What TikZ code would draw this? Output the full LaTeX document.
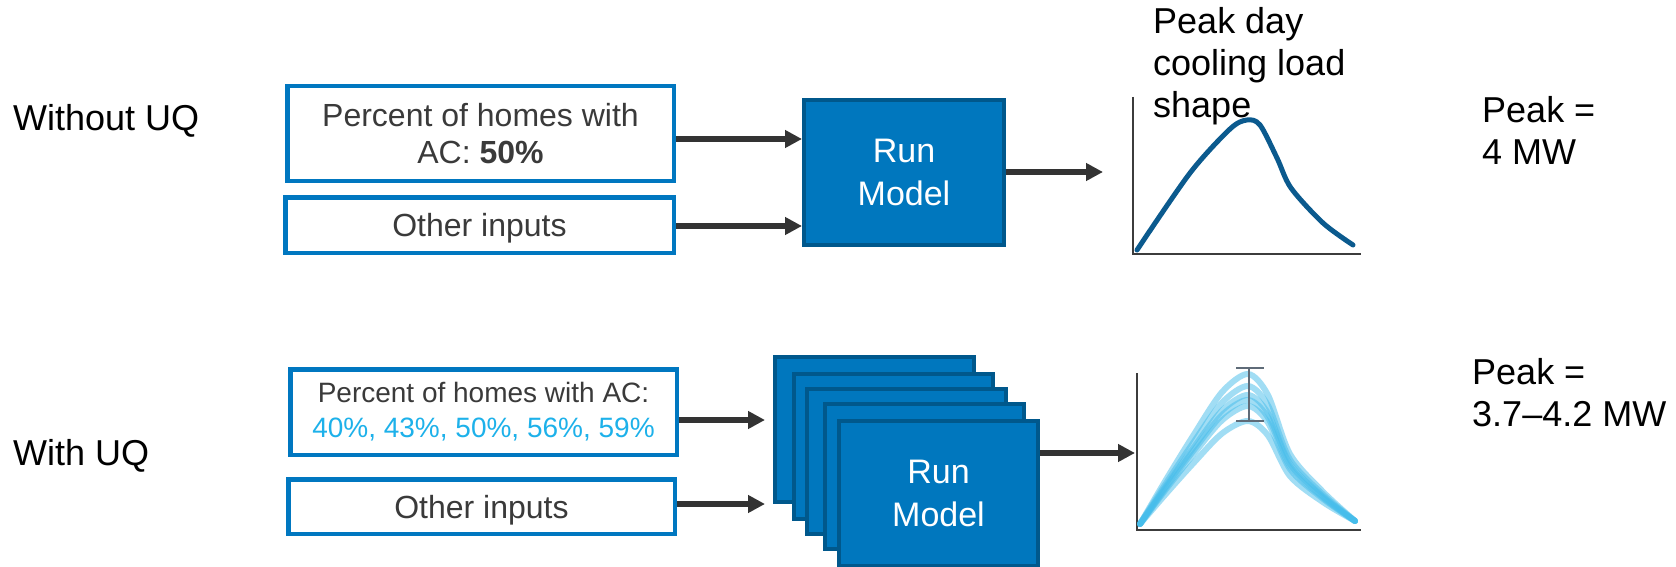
\documentclass[tikz,border=0pt]{standalone}
\usepackage{fontspec}
\setmainfont{Liberation Sans}
\usetikzlibrary{arrows.meta}
\definecolor{inblue}{HTML}{0077C0}
\definecolor{modelfill}{HTML}{0077BE}
\definecolor{modelborder}{HTML}{00588C}
\definecolor{arrgrey}{HTML}{333333}
\definecolor{txtgrey}{HTML}{3A3A3A}
\definecolor{cyantxt}{HTML}{1DB1EA}
\definecolor{curvedark}{HTML}{0B5A8E}
\definecolor{curvelight}{HTML}{45BDEB}
\definecolor{axisgrey}{HTML}{3C3C3C}
\definecolor{errgrey}{HTML}{5F6B78}
\tikzset{
  inbox/.style={draw=inblue, line width=4.5pt, fill=white, text=txtgrey, align=center,
    inner sep=0pt, font=\fontsize{32}{37}\selectfont},
  modelbox/.style={draw=modelborder, line width=4pt, fill=modelfill, text=white, align=center,
    inner sep=0pt, minimum width=199pt, minimum height=145pt, font=\fontsize{34}{43}\selectfont},
  arr/.style={draw=arrgrey, line width=6pt, -{Triangle[length=17pt,width=17pt]}},
  plainlbl/.style={inner sep=0pt, anchor=north west, align=left, text=black,
    font=\fontsize{36}{42}\selectfont},
  axisline/.style={draw=axisgrey, line width=2.5pt},
  darkcurve/.style={draw=curvedark, line width=5pt, line cap=round},
  lightcurve/.style={draw=curvelight, draw opacity=0.5, line width=6pt, line cap=round},
  errbar/.style={draw=errgrey, line width=2.5pt}
}
\begin{document}
\begin{tikzpicture}[x=1pt,y=-1pt]
\clip (0,0) rectangle (1676,567);
\fill[white] (0,0) rectangle (1676,567);

% left labels
\node[plainlbl] (lwo) at (13,104) {Without UQ};
\node[plainlbl] (lw) at (13,439) {With UQ};

% ---------- without UQ ----------
\node[inbox, minimum width=386.5pt, minimum height=94.5pt] (in1) at (480.5,133.5)
  {Percent of homes with\\AC: \textbf{50\%}};
\node[inbox, text depth=0pt, minimum width=388.5pt, minimum height=55.5pt] (in2) at (479.5,225) {Other inputs};
\node[modelbox, minimum width=200pt] (run1) at (904,172.5) {Run\\Model};

\coordinate (ya) at (0,139);
\coordinate (yb) at (0,226);
\coordinate (yc) at (0,172);
\coordinate (t1) at (1103,172);
\draw[arr] (in1.east |- ya) -- (run1.west |- ya);
\draw[arr] (in2.east |- yb) -- (run1.west |- yb);
\draw[arr] (run1.east |- yc) -- (t1);

% top chart
\draw[axisline] (1133,97) -- (1133,254) -- (1361,254);
\draw[darkcurve] plot[smooth] coordinates {(1137,250) (1190,173) (1230,129) (1247,120) (1260,125) (1277,158) (1291,188) (1323,223) (1353,245)};
\node[plainlbl] (ltitle) at (1153,7) {Peak day\\cooling load\\shape};
\node[plainlbl] (lpk1) at (1482,96) {Peak =\\4 MW};

% ---------- with UQ ----------
\node[inbox, minimum width=386.5pt, minimum height=85.5pt, font=\fontsize{28}{35}\selectfont] (in3) at (483.5,412)
  {Percent of homes with AC:\\\textcolor{cyantxt}{40\%, 43\%, 50\%, 56\%, 59\%}};
\node[inbox, text depth=0pt, minimum width=386.5pt, minimum height=54.5pt] (in4) at (481.5,506.5) {Other inputs};

\node[modelbox] (b1) at (874.5,429.5) {};
\node[modelbox] (b2) at (893.5,446.5) {};
\node[modelbox] (b3) at (906.5,461.5) {};
\node[modelbox] (b4) at (924.5,476.5) {};
\node[modelbox] (b5) at (938.5,493.5) {Run\\Model};

\coordinate (yd) at (0,420);
\coordinate (ye) at (0,504);
\coordinate (yf) at (0,453);
\coordinate (t2) at (765,420);
\coordinate (t3) at (765,504);
\coordinate (t4) at (1135,453);
\draw[arr] (in3.east |- yd) -- (t2);
\draw[arr] (in4.east |- ye) -- (t3);
\draw[arr] (b5.east |- yf) -- (t4);

% bottom chart
\draw[axisline] (1137,373) -- (1137,530) -- (1361,530);
\foreach \h in {151,139,130,125,119,104}{
  \draw[lightcurve] plot[smooth] coordinates {(1140,524) (1166,{525-0.3*\h}) (1193,{525-0.59*\h}) (1222,{525-0.88*\h}) (1248,{525-\h}) (1268,{525-0.86*\h}) (1290,{525-0.47*\h}) (1323,{525-0.22*\h}) (1355,521)};
}
\draw[errbar] (1249,368) -- (1249,421);
\draw[errbar] (1236,368) -- (1264,368);
\draw[errbar] (1236,421) -- (1264,421);
\node[plainlbl] (lpk2) at (1472,358) {Peak =\\3.7–4.2 MW};
\end{tikzpicture}
\end{document}
